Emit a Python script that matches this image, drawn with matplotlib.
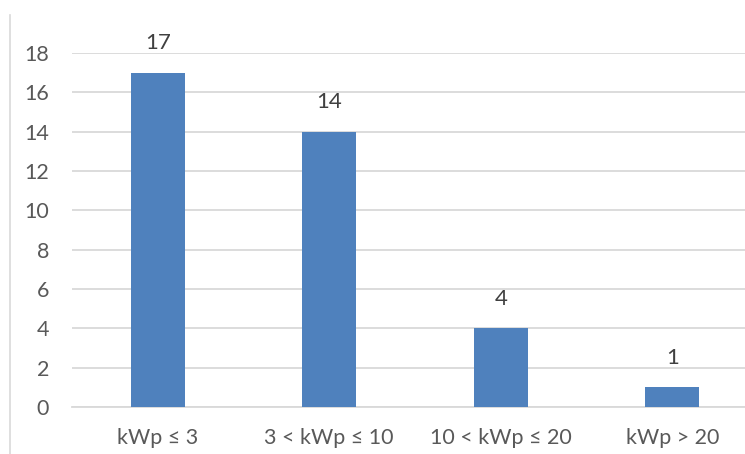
import numpy as np
import matplotlib.pyplot as plt
from matplotlib.lines import Line2D

categories = ["kWp ≤ 3", "3 < kWp ≤ 10", "10 < kWp ≤ 20", "kWp > 20"]
counts = [17, 14, 4, 1]
yticks = [0, 2, 4, 6, 8, 10, 12, 14, 16, 18]

plt.rcParams['font.family'] = ['Lato', 'DejaVu Sans']

fig = plt.figure(figsize=(7.45, 4.54), dpi=100)
# plot area runs a little past the right edge, like the cropped original
ax = fig.add_axes([72/745, 1 - 407/454, 686/745, (407 - 53)/454])

x = np.arange(len(categories))
bars = ax.bar(x, counts, width=0.315, color="#4F81BD", zorder=3)
ax.set_xlim(-0.5, len(categories) - 0.5)
ax.set_ylim(0, 18)
ax.set_yticks(yticks)
ax.set_xticks(x)
ax.set_xticklabels(categories)

ax.yaxis.grid(True, color="#D9D9D9", linewidth=1.3, zorder=0)
for s in ["top", "right", "left"]:
    ax.spines[s].set_visible(False)
ax.spines["bottom"].set_color("#D9D9D9")
ax.spines["bottom"].set_linewidth(1.3)
ax.tick_params(axis="both", length=0, labelcolor="#595959", labelsize=15.5)
ax.tick_params(axis="y", pad=16.5)
ax.tick_params(axis="x", pad=15)

for b, v in zip(bars, counts):
    ax.annotate(str(v), (b.get_x() + b.get_width()/2, v), xytext=(0, 14),
                textcoords="offset points", ha="center", va="bottom",
                fontsize=16, color="#404040")

# thin border on the left side of the chart area
fig.add_artist(Line2D([9.5/745, 9.5/745], [0, 1 - 15/454], color="#D9D9D9",
                      linewidth=1.2, transform=fig.transFigure))

fig.savefig("out.png", dpi=100)
